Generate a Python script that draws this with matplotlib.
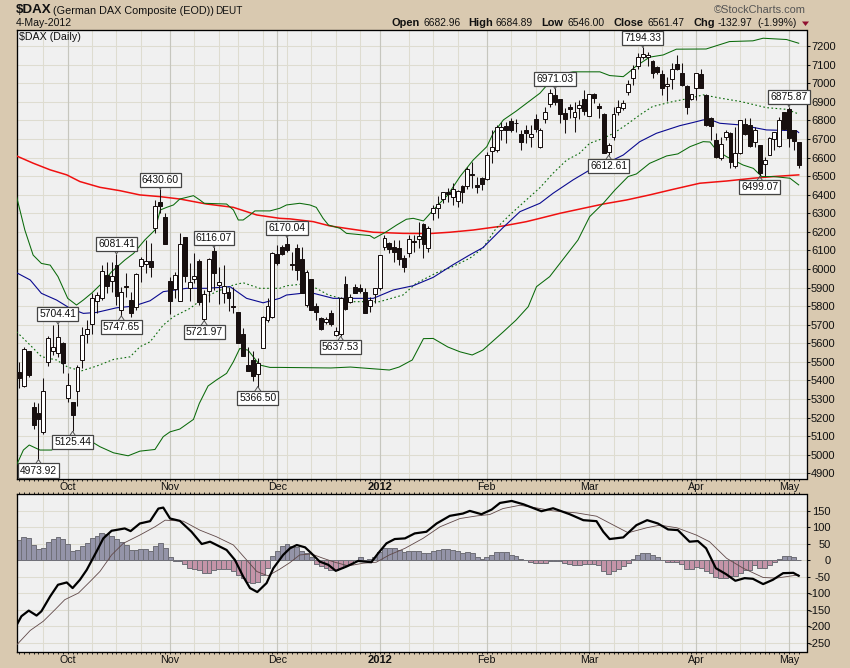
import matplotlib
matplotlib.use("Agg")
import matplotlib.pyplot as plt
from matplotlib.ticker import FixedLocator, NullFormatter
from matplotlib.patches import Polygon

plt.rcParams['font.family'] = ['Liberation Sans', 'DejaVu Sans']

opens = [5443,5371,5558,5255,5226,5123,5501,5558,5549,5599,5307,5283,5341,5508,5648,5702,5826,5845,5968,5935,
 6021,5777,5910,5831,5797,6016,6025,6041,6219,6361,6278,5935,5890,5829,6170,5899,5948,6043,5729,5881,
 6097,5915,5869,5876,5799,5768,5650,5481,5510,5434,5572,5725,5740,6079,6117,6135,6027,6112,6052,5804,
 5946,5801,5734,5713,5765,5646,5648,5919,5824,5901,5896,5874,5801,5864,5896,6120,6138,6119,6113,6058,
 6088,6149,6160,6241,6115,6304,6327,6376,6413,6386,6368,6447,6449,6512,6451,6489,6483,6638,6641,6749,
 6771,6798,6789,6728,6749,6710,6810,6659,6807,6887,6938,6916,6839,6871,6817,6866,6914,6826,6941,6878,
 6833,6632,6713,6844,6866,6956,7027,7094,7141,7141,7121,7087,7051,6983,7022,7103,7054,6986,6918,6975,
 7049,6938,6812,6695,6600,6710,6735,6555,6623,6780,6776,6686,6668,6564,6614,6699,6663,6844,6860,6749,6683]
closes = [5414,5567,5431,5161,5194,5341,5626,5578,5635,5495,5373,5215,5470,5642,5675,5845,5862,5991,5910,5964,
 5856,5874,5905,5765,5971,6052,6045,6012,6340,6340,6135,5827,5968,6135,5962,5928,5960,5824,5863,6054,
 5980,5928,5910,5844,5795,5603,5533,5452,5425,5492,5743,5799,6084,6034,6079,6103,6020,5995,5869,5982,
 5779,5770,5675,5729,5702,5668,5846,5786,5848,5873,5882,5765,5833,5896,6074,6165,6110,6094,6056,6013,
 6160,6144,6176,6137,6219,6331,6352,6413,6406,6433,6419,6417,6537,6507,6440,6456,6613,6656,6763,6763,
 6749,6749,6785,6686,6735,6728,6755,6749,6844,6947,6902,6835,6807,6862,6848,6886,6851,6941,6920,6866,
 6627,6666,6835,6875,6896,6995,7076,7141,7157,7150,7054,7060,6977,6995,7076,7076,6992,6871,6945,7054,
 6977,6776,6771,6602,6674,6740,6578,6623,6801,6727,6665,6749,6519,6586,6704,6736,6803,6754,6708,6692,6561]
highs = [5501,5581,5558,5285,5276,5411,5639,5698,5704,5608,5438,5283,5483,5689,5725,5869,5878,6021,6039,6039,
 6081,5905,5980,5878,5980,6066,6156,6138,6372,6431,6300,5959,5986,6192,6170,6030,6088,6052,5887,6057,
 6116,6009,6021,5905,5901,5768,5680,5581,5560,5519,5747,5842,6093,6130,6130,6170,6094,6133,6120,5995,
 5946,5815,5743,5743,5779,5689,5851,5962,5865,5919,5918,5896,5851,5896,6074,6183,6147,6156,6156,6076,
 6183,6183,6255,6246,6232,6345,6393,6417,6435,6462,6426,6453,6552,6578,6498,6498,6632,6749,6776,6794,
 6794,6812,6810,6749,6776,6776,6835,6758,6875,6971,6974,6916,6866,6889,6902,6911,6965,6941,6947,6896,
 6839,6677,6875,6911,6911,7018,7099,7162,7194,7171,7126,7094,7072,7036,7108,7150,7108,6992,6945,7058,
 7076,6941,6817,6731,6713,6749,6740,6767,6803,6812,6812,6767,6668,6602,6710,6740,6821,6848,6875,6749,6685]
lows = [5357,5366,5420,5136,4974,5111,5479,5537,5527,5438,5285,5125,5264,5465,5599,5650,5761,5833,5869,5878,
 5806,5748,5851,5743,5779,5932,5976,5958,6192,6300,6135,5757,5842,5829,5932,5827,5923,5806,5722,5824,
 5887,5811,5815,5774,5761,5599,5531,5452,5398,5366,5572,5716,5734,6022,6076,6094,5995,5941,5869,5797,
 5779,5725,5672,5704,5693,5639,5638,5779,5819,5869,5869,5761,5770,5815,5887,6103,6085,6040,6022,5986,
 6067,6094,6112,6061,6094,6264,6273,6354,6363,6345,6336,6354,6429,6435,6411,6426,6480,6570,6632,6695,
 6681,6740,6740,6641,6677,6659,6740,6650,6789,6875,6884,6785,6731,6812,6740,6807,6830,6826,6893,6812,
 6623,6612,6695,6830,6857,6938,6991,7076,7130,7094,7027,7051,6938,6907,6968,7072,6986,6835,6911,6911,
 6974,6771,6695,6596,6587,6695,6546,6546,6620,6722,6659,6659,6499,6501,6614,6641,6659,6749,6659,6641,6546]

upper_x = [-0.5,1.2,2.9,4.6,6.4,8,10,11.8,13.2,15,17,19,21.7,23.5,25.8,27.9,29,30.3,31.7,33,35.8,37.1,38,42.6,44,45,46,47.4,48.4,51.5,53.5,
 54.9,57.6,59.7,61,62.4,63.5,65.9,67.2,72,72.9,75.4,77.5,79.5,80.9,83,85,88,90.5,93.2,96,97.3,99.4,102,106.9,108.6,110.3,113.7,119.2,121.2,124,125.3,126.7,129.4,132.2,134.9,141,145.8,150.6,152.7,157.5,160]
upper_y = [6390,6210,6075,6030,6021,5959,5842,5806,5833,5872,5923,5985,6048,6084,6156,6210,6318,6332,6345,6377,6395,6372,6354,6350,6318,6264,6264,6291,6313,6313,6327,
 6345,6354,6345,6332,6273,6237,6219,6192,6180,6165,6201,6237,6268,6273,6259,6318,6399,6498,6587,6659,6731,6803,6850,6947,6998,7045,7062,7062,7042,7036,7063,7094,7141,7153,7184,7185,7225,7229,7243,7236,7216]
lower_x = [-0.5,0.9,2.1,4.3,6.7,8.8,14.6,16.6,19.4,22.4,24.8,27.9,29.6,31,33,35.8,37,38.8,40.5,42.6,44,45.3,47,49.4,51.5,53.5,64,68,76,78,80.7,83,85,88,90.5,93,95.2,99.4,102,104.5,106.2,108.9,
 114.7,117.1,119.9,122.3,125,126.7,129.4,132.9,135.2,137.7,140.4,141.8,143.1,145.2,148.6,150.7,152.4,154.8,158.2,160]
lower_y = [4944,5025,5052,5025,5025,5060,5075,5043,5010,4994,5019,5028,5097,5123,5138,5190,5276,5370,5402,5438,5501,5572,5563,5483,5470,5470,5467,5472,5456,5472,5510,5625,5626,5580,5554,5537,5564,5662,5725,5797,5905,5959,
 6156,6282,6354,6426,6498,6512,6569,6609,6620,6659,6686,6684,6641,6605,6560,6542,6498,6498,6489,6453]
mid_x = [-0.5,2.3,4.6,7.7,10.1,12.9,15.9,19.4,22.8,24.8,26.9,29.6,31.7,35.1,37.8,40.5,44,46,49.4,53.5,54.9,58.3,61,63.5,68.6,74,78.8,81.5,85.7,89,92.5,95.2,97.9,100.7,104.1,106.9,109.6,112.4,115,117.1,119.9,122,124.6,127.4,130,134.2,137.7,140.4,144,148.1,153.4,157.5,160]
mid_y = [5662,5590,5528,5510,5470,5452,5477,5513,5527,5581,5608,5698,5743,5788,5842,5878,5914,5926,5896,5896,5910,5919,5896,5860,5824,5824,5860,5923,5980,6013,6058,6112,6219,6291,6372,6438,6516,6587,6623,6677,6704,6731,6776,6830,6875,6902,6920,6938,6920,6902,6869,6860,6835]
sma50_x = [-0.5,2.3,4.6,7.7,10.5,13.2,15.9,20,23.5,26.9,29.6,34.4,38.5,43.3,46.7,50.1,53.5,54.9,59.7,64.5,72.7,76.8,80.9,85,89,92.5,95.2,99.4,102.8,106.9,109.6,113.7,117.1,120.5,124,127.4,130.8,135.6,138.3,140.4,142.4,143.8,148,153.4,159.5,160]
sma50_y = [5980,5941,5869,5833,5788,5761,5766,5791,5800,5829,5878,5896,5896,5905,5842,5818,5842,5860,5874,5842,5842,5887,5910,5955,6022,6076,6115,6225,6309,6354,6408,6480,6533,6569,6614,6686,6731,6772,6789,6803,6799,6785,6776,6749,6745,6735]
sma200_x = [-0.5,2.9,6.4,9.8,12.5,16.6,20.7,24.8,28.9,33,38.5,44,48.8,53.5,55.6,60.4,63.8,67.9,72.7,78.8,84.3,88.4,93.2,99.4,104.1,106.9,111,115.8,119.9,124.7,129.4,134.2,139.7,145.2,150.7,154.8,160]
sma200_y = [6609,6570,6534,6507,6471,6440,6422,6399,6390,6377,6350,6332,6291,6273,6270,6255,6232,6216,6198,6192,6191,6198,6210,6232,6255,6273,6300,6327,6350,6372,6399,6429,6462,6474,6489,6498,6507]

macd_x = [-0.5,0.5,2,3.6,4.6,6.4,8,9.8,11,12.5,13.9,15.9,17.3,19,21.7,22.9,24.8,26.9,28.6,29.6,31,33,35.4,37.5,39.2,42.6,44.3,46,47.4,48.9,50.8,52.2,54.2,55.6,57,58.7,60,61.7,63.5,65,67.2,69.6,72.3,73.7,75.4,77.1,79.2,81.2,83.6,85.7,88.4,91.1,92.5,94.9,97,98.7,101.1,103.5,107.2,109.6,113,115.8,118.5,119.9,121.2,124,126.7,128.9,131.1,133.2,135.2,137.6,139.3,141,143,145.1,147,148.9,150.6,152.7,154.7,156.8,158.9,160]
macd_y = [-196,-169,-152,-167,-154,-109,-74,-67,-84,-59,-29,26,66,89,96,88,111,118,156,159,126,119,86,49,56,31,1,-49,-84,-96,-69,-24,16,36,46,39,21,-4,-14,-32,-19,-2,-6,21,51,64,66,81,86,111,134,141,149,139,153,173,179,169,148,157,139,121,118,86,64,69,106,121,111,93,91,56,58,36,-24,-42,-62,-54,-56,-72,-59,-39,-38,-47]
signal_x = [-0.5,2.3,5,7.4,9.4,12.2,14.6,16.6,19,21.4,24.8,27.9,30,33.7,37.1,40.5,44,46.7,48.8,51.1,53.5,55.6,57.6,60,62.4,64.8,67.6,70.6,73.3,76,79.2,82.9,86.4,90.5,94,96.6,99.3,102.8,106.2,109.6,114.4,118.5,122,125,128.8,131.5,135,139,141.7,145.2,148.6,152.7,155.4,160]
signal_y = [-256,-212,-184,-149,-119,-99,-64,-34,16,51,76,101,121,118,91,71,46,1,-34,-47,-27,-7,16,19,6,-6,-17,-9,-6,16,36,66,101,126,134,138,156,166,158,149,143,133,106,83,98,106,98,76,56,6,-24,-52,-54,-44]
hist = [61,69,66,46,34,36,54,64,69,64,49,28,30,44,51,66,73,81,78,74,63,54,46,31,31,33,33,28,43,51,38,9,-2,-2,-12,-22,-26,-28,-38,-40,
 -28,-25,-25,-25,-32,-45,-55,-65,-70,-65,-45,-22,13,29,43,48,44,41,28,23,9,-10,-18,-22,-28,-30,-22,-15,-10,1,9,1,5,9,26,38,38,36,31,26,
 27,27,27,21,21,27,31,33,33,31,28,23,25,23,11,4,11,15,24,24,24,16,13,4,0,-5,-8,-9,-7,-2,-2,-2,-8,-12,-15,-15,-12,-12,-12,-15,
 -33,-43,-33,-25,-18,-8,5,16,22,22,15,9,0,-5,-5,-5,-12,-25,-27,-20,-22,-33,-38,-50,-53,-53,-48,-48,-38,-28,-28,-15,-24,-22,-14,-5,5,12,12,9,0]

month_pos = [10, 31, 53, 74, 96, 117, 139, 158]
month_names = ['Oct', 'Nov', 'Dec', '2012', 'Feb', 'Mar', 'Apr', 'May']
week_pos = [5,15,20,25,36,41,45,50,55,60,65,70,80,85,90,101,106,111,122,127,132,136,143,148,153]
price_ticks = list(range(4900, 7300, 100))
macd_ticks = list(range(-250, 200, 50))

callouts = [(4,4973.92,-1),(11,5125.44,-1),(8,5704.41,1),(20,6081.41,1),(21,5747.65,-1),(29,6430.60,1),(38,5721.97,-1),
            (40,6116.07,1),(49,5366.50,-1),(55,6170.04,1),(66,5637.53,-1),(110,6971.03,1),(121,6612.61,-1),
            (128,7194.33,1),(152,6499.07,-1),(158,6875.87,1)]

W, H = 850, 668
BG = '#d9c9b0'
DARK = '#181010'
fig = plt.figure(figsize=(W/100, H/100), dpi=100, facecolor=BG)
def axpx(l, t, r, b):
    return fig.add_axes([l/W, 1-b/H, (r-l)/W, (b-t)/H], facecolor='#f0f0f0')
ax = axpx(17, 29.5, 806.5, 479)
ax2 = axpx(17, 494, 806.5, 652)
XL = (-0.41, 161.6)

for a, yticks in ((ax, price_ticks), (ax2, macd_ticks)):
    a.set_xlim(*XL)
    a.set_axisbelow(True)
    for s in a.spines.values():
        s.set_linewidth(0.95); s.set_color('#000000')
    a.yaxis.tick_right()
    a.set_yticks(yticks)
    a.set_yticklabels([str(t) for t in yticks], fontsize=8.0)
    a.grid(axis='y', color='#dedcd0', lw=0.75)
    for w in week_pos:
        a.axvline(w, color='#dedcd0', lw=0.75, zorder=0.5)
    for m in month_pos:
        a.axvline(m, color='#c6c6be', lw=0.85, zorder=0.6)
    a.xaxis.set_major_locator(FixedLocator(list(range(0, 161))))
    a.xaxis.set_major_formatter(NullFormatter())
    a.tick_params(axis='x', length=1.6, width=0.7, direction='out', color='#222222')

ax.tick_params(axis='y', length=2, width=0.75, pad=1.2, colors='#111111')
ax2.tick_params(axis='y', length=2, width=0.75, pad=15.5, colors='#111111')
for lab in ax2.get_yticklabels():
    lab.set_ha('right')

ax.set_ylim(4869, 7290)
ax2.set_ylim(-277, 200)
ax2.tick_params(axis='x', top=True)

# bands and averages
ax.plot(sma200_x, sma200_y, color='#f01010', lw=1.1, zorder=3)
ax.plot(upper_x, upper_y, color='#0a6a0a', lw=0.75, zorder=3)
ax.plot(lower_x, lower_y, color='#0a6a0a', lw=0.75, zorder=3)
ax.plot(mid_x, mid_y, color='#0a6a0a', lw=0.8, ls=(0, (1.5, 2.2)), zorder=3)
ax.plot(sma50_x, sma50_y, color='#0a0a90', lw=0.8, zorder=3)

# candles
idx = list(range(len(opens)))
ax.vlines(idx, lows, highs, color=DARK, lw=0.75, zorder=4)
bottoms = [min(o, c) for o, c in zip(opens, closes)]
heights = [abs(o-c) for o, c in zip(opens, closes)]
faces = [DARK if c < o else '#ffffff' for o, c in zip(opens, closes)]
ax.bar(idx, heights, bottom=bottoms, width=0.8, color=faces, edgecolor=DARK, lw=0.72, zorder=5)

# callouts
for i, v, d in callouts:
    y_off = 9.5*0.72 if d > 0 else -11*0.72
    ax.annotate(f'{v:.2f}', xy=(i, v), xytext=(0, y_off), textcoords='offset points',
                ha='center', va='center', fontsize=7.4, color='#111111', zorder=8,
                bbox=dict(boxstyle='square,pad=0.2', fc='white', ec='#444444', lw=0.9))
    for sx in (-3, 3):
        ax.annotate('', xy=(i, v), xytext=(sx, 4.5*d), textcoords='offset points',
                    arrowprops=dict(arrowstyle='-', lw=0.7, color='#555555', shrinkA=0, shrinkB=0), zorder=7)

# MACD panel
cols = ['#9494a8' if h >= 0 else '#c494a8' for h in hist]
ax2.bar(idx, hist, width=1.0, color=cols, edgecolor='#707078', lw=0.72, zorder=2)
ax2.plot(signal_x, signal_y, color='#604848', lw=0.6, zorder=3)
ax2.plot(macd_x, macd_y, color='#000000', lw=1.6, zorder=4)

# month labels between and below the panels
for y, off in ((1.0, 4.8), (0.0, -5.8)):
    for m, n in zip(month_pos, month_names):
        bold = n == '2012'
        ax2.annotate(n, xy=(m, y), xycoords=('data', 'axes fraction'),
                     xytext=(0, off), textcoords='offset points', ha='center', va='center',
                     fontsize=8 if bold else 7.7, fontweight='bold' if bold else 'normal', color='#111111')

def T(x, y, s, size=8.0, bold=False, ha='left', color='#111111'):
    fig.text(x/W, 1-y/H, s, fontsize=size, fontweight='bold' if bold else 'normal', ha=ha, va='center', color=color)

T(16, 10, '$DAX', 9.6, True)
T(53, 10.5, '(German DAX Composite (EOD))', 7.8)
T(215, 10.5, 'DEUT', 7.2)
T(16, 23.5, '4-May-2012', 7.6)
T(19, 36.5, '$DAX (Daily)', 7.7)
T(806, 10, '\u00a9StockCharts.com', 7.9, ha='right', color='#555555')
for x, s, b in [(392, 'Open', True), (424, '6682.96', False), (468, 'High', True), (496, '6684.89', False),
                (541, 'Low', True), (568, '6546.00', False), (613, 'Close', True), (648, '6561.47', False),
                (693, 'Chg', True), (718, '-132.97', False), (757, '(-1.99%)', False)]:
    T(x, 23.5, s, 7.9 if b else 7.4, b)
fig.patches.append(Polygon([[802/W, 1-21.5/H], [809/W, 1-21.5/H], [805.5/W, 1-26/H]], closed=True,
                           transform=fig.transFigure, fc='#901030', ec='none'))

fig.savefig('out.png', dpi=100, facecolor=BG)
